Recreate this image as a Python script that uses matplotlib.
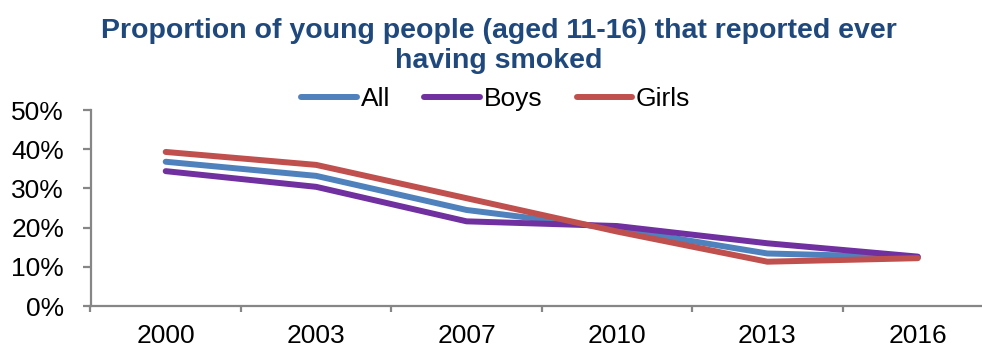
import matplotlib
matplotlib.use("Agg")
import matplotlib.pyplot as plt
from matplotlib.ticker import FixedLocator, FuncFormatter

years = ["2000", "2003", "2007", "2010", "2013", "2016"]
all_pct = [36.8, 33.2, 24.5, 19.7, 13.4, 12.4]
boys_pct = [34.4, 30.4, 21.6, 20.4, 16.0, 12.6]
girls_pct = [39.3, 36.0, 27.5, 19.0, 11.3, 12.2]
y_ticks = [0, 10, 20, 30, 40, 50]

plt.rcParams["font.family"] = ["Liberation Sans", "DejaVu Sans"]

fig = plt.figure(figsize=(9.82, 3.5), dpi=100)
ax = fig.add_axes([90.5 / 982, 44 / 350, (993 - 90.5) / 982, 196 / 350])

x = range(len(years))
series = [("All", all_pct, "#4F81BD"),
          ("Boys", boys_pct, "#7030A0"),
          ("Girls", girls_pct, "#C0504D")]
for name, vals, col in series:
    ax.plot(x, vals, color=col, lw=4.3, solid_capstyle="round",
            solid_joinstyle="round", label=name)

ax.set_xlim(-0.5, len(years) - 0.5)
ax.set_ylim(0, 50)
ax.set_yticks(y_ticks)
ax.yaxis.set_major_formatter(FuncFormatter(lambda v, p: f"{v:.0f}%"))
ax.set_xticks(list(x))
ax.set_xticklabels(years)
ax.xaxis.set_minor_locator(FixedLocator([i - 0.5 for i in range(len(years) + 1)]))

spine_col = "#868686"
for s in ["top", "right"]:
    ax.spines[s].set_visible(False)
for s in ["left", "bottom"]:
    ax.spines[s].set_color(spine_col)
    ax.spines[s].set_linewidth(1.6)

ax.tick_params(axis="y", length=6, width=1.6, color=spine_col, pad=13,
               labelsize=19, labelcolor="black")
ax.tick_params(axis="x", which="major", length=0, pad=13, labelsize=19,
               labelcolor="black")
ax.tick_params(axis="x", which="minor", length=4, width=1.6, color=spine_col)

fig.text(0.508, 0.868,
         "Proportion of young people (aged 11-16) that reported ever\nhaving smoked",
         ha="center", va="center", fontsize=20.5, fontweight="bold",
         color="#1F497D", linespacing=1.2)

fig.legend(loc="center", bbox_to_anchor=(0.505, 0.717), ncol=3, frameon=False,
           fontsize=19, handlelength=2.1, handletextpad=0.15,
           columnspacing=1.3, borderpad=0, borderaxespad=0)

fig.savefig("out.png", dpi=100)
